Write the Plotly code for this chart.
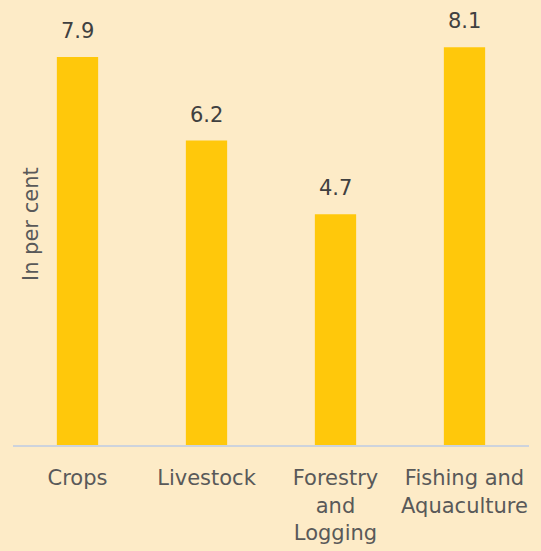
import plotly.graph_objects as go

categories = ["Crops", "Livestock", "Forestry<br>and<br>Logging", "Fishing and<br>Aquaculture"]
values = [7.9, 6.2, 4.7, 8.1]
y_title = "In per cent"

bg = "#FDEBC7"
bar_color = "#FFC80B"
text_color = "#595959"
font_family = "DejaVu Sans, Lato, sans-serif"

fig = go.Figure()
fig.add_trace(go.Bar(
    x=categories, y=values, marker=dict(color=bar_color, line=dict(width=0)),
    width=0.32, hoverinfo="skip",
))

for c, v in zip(categories, values):
    fig.add_annotation(x=c, y=v, text=f"{v:.1f}", showarrow=False,
                       yanchor="bottom", yshift=12,
                       font=dict(family=font_family, size=21, color="#404040"))

fig.add_annotation(xref="paper", yref="paper", x=0.035, y=0.5, text=y_title,
                   textangle=-90, showarrow=False, xanchor="center", yanchor="middle",
                   font=dict(family=font_family, size=21, color=text_color))

fig.update_layout(
    width=541, height=551,
    margin=dict(l=13, r=12, t=3, b=106),
    paper_bgcolor=bg, plot_bgcolor=bg,
    showlegend=False,
    bargap=0.68,
    font=dict(family=font_family, size=21, color=text_color),
    xaxis=dict(showline=True, linecolor="#CDD3DD", linewidth=2, showgrid=False,
               ticks="outside", ticklen=13, tickcolor=bg,
               tickfont=dict(family=font_family, size=21, color=text_color),
               fixedrange=True),
    yaxis=dict(range=[0, 9], showgrid=False, showticklabels=False, zeroline=False,
               showline=False, ticks="", fixedrange=True),
)

fig.write_html("out.html", config={"displayModeBar": False},
               post_script="document.body.style.margin='0';document.body.style.background='#FDEBC7';")
